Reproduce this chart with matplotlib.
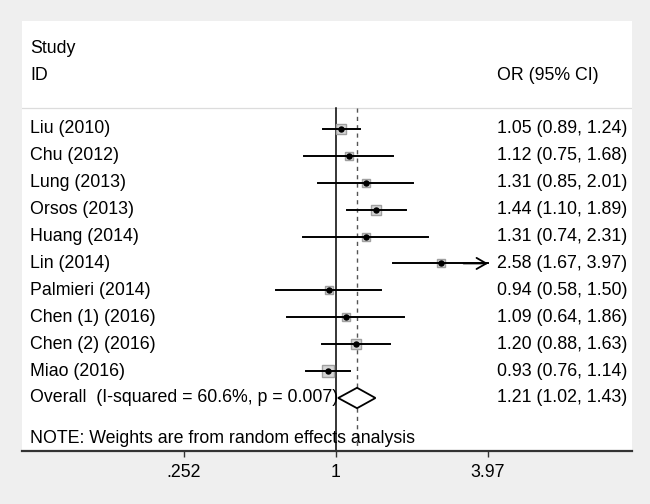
import numpy as np
import matplotlib
matplotlib.use("Agg")
import matplotlib.pyplot as plt
from matplotlib.patches import Polygon

plt.rcParams['font.family'] = ['Liberation Sans', 'DejaVu Sans']

studies = ["Liu (2010)", "Chu (2012)", "Lung (2013)", "Orsos (2013)", "Huang (2014)",
           "Lin (2014)", "Palmieri (2014)", "Chen (1) (2016)", "Chen (2) (2016)", "Miao (2016)"]
or_vals = [1.05, 1.12, 1.31, 1.44, 1.31, 2.58, 0.94, 1.09, 1.20, 0.93]
ci_low = [0.89, 0.75, 0.85, 1.10, 0.74, 1.67, 0.58, 0.64, 0.88, 0.76]
ci_high = [1.24, 1.68, 2.01, 1.89, 2.31, 3.97, 1.50, 1.86, 1.63, 1.14]
weights = [15.0, 9.0, 7.5, 11.0, 6.5, 7.5, 7.0, 6.5, 11.0, 16.0]
overall_or, overall_low, overall_high = 1.21, 1.02, 1.43
overall_label = "Overall  (I-squared = 60.6%, p = 0.007)"
tick_vals = [0.252, 1, 3.97]
tick_labels = [".252", "1", "3.97"]
axis_max = 3.97

fig = plt.figure(figsize=(6.5, 5.04), dpi=100, facecolor='#efefef')
ax = fig.add_axes([22/650, (504-451)/504, 610/650, 430/504])
ax.set_facecolor('white')
ax.set_xscale('log')
ax.set_xlim(0.058, 14.64)
ax.set_ylim(11.97, -4.01)
ax.minorticks_off()

fs = 12.8
xt = 8/610
xr = 475/610
trans = ax.get_yaxis_transform()

ax.text(xt, -3.0, "Study", transform=trans, fontsize=fs, va='center', ha='left')
ax.text(xt, -2.0, "ID", transform=trans, fontsize=fs, va='center', ha='left')
ax.text(xr, -2.0, "OR (95% CI)", transform=trans, fontsize=fs, va='center', ha='left')
ax.axhline(-0.78, color='#dcdcdc', lw=0.9)

ytop = -0.78
ax.plot([1, 1], [ytop, 11.97], color='black', lw=1.1, zorder=2)
ax.plot([overall_or, overall_or], [ytop, 11.97], color='#555555', lw=1.0,
        ls=(0, (3, 3)), zorder=2)

for i, (s, o, lo, hi, w) in enumerate(zip(studies, or_vals, ci_low, ci_high, weights)):
    ax.text(xt, i, s, transform=trans, fontsize=fs, va='center', ha='left')
    ax.text(xr, i, f"{o:.2f} ({lo:.2f}, {hi:.2f})", transform=trans,
            fontsize=fs, va='center', ha='left')
    side_px = 2.8 * np.sqrt(w)
    ax.plot([o], [i], marker='s', ms=side_px * 0.72, mfc='#d6d6d6', mec='#a0a0a0',
            mew=1.0, zorder=3)
    ax.plot([lo, hi], [i, i], color='black', lw=1.4, zorder=4)
    if hi >= axis_max:
        ax.annotate("", xy=(hi, i), xytext=(hi * 0.8, i),
                    arrowprops=dict(arrowstyle='->,head_length=0.7,head_width=0.4',
                                    color='black', lw=1.3, shrinkA=0, shrinkB=0),
                    zorder=4)
    ax.plot([o], [i], marker='o', ms=3.6, color='black', zorder=5)

yo = len(studies)
ax.text(xt, yo, overall_label, transform=trans, fontsize=fs, va='center', ha='left')
ax.text(xr, yo, f"{overall_or:.2f} ({overall_low:.2f}, {overall_high:.2f})",
        transform=trans, fontsize=fs, va='center', ha='left')
dh = 0.38
diamond = Polygon([[overall_low, yo], [overall_or, yo - dh], [overall_high, yo],
                   [overall_or, yo + dh]], closed=True, fc='white', ec='black',
                  lw=1.3, zorder=4)
ax.add_patch(diamond)

ax.text(xt, 11.5, "NOTE: Weights are from random effects analysis", transform=trans,
        fontsize=fs, va='center', ha='left')

for sp in ['top', 'left', 'right']:
    ax.spines[sp].set_visible(False)
ax.spines['bottom'].set_color('#333333')
ax.spines['bottom'].set_linewidth(1.6)
ax.set_yticks([])
ax.set_xticks(tick_vals)
ax.set_xticklabels(tick_labels, fontsize=fs)
ax.tick_params(axis='x', direction='out', length=4.5, width=1.0, color='#333333', pad=5)

fig.savefig("out.png", dpi=100, facecolor=fig.get_facecolor())
